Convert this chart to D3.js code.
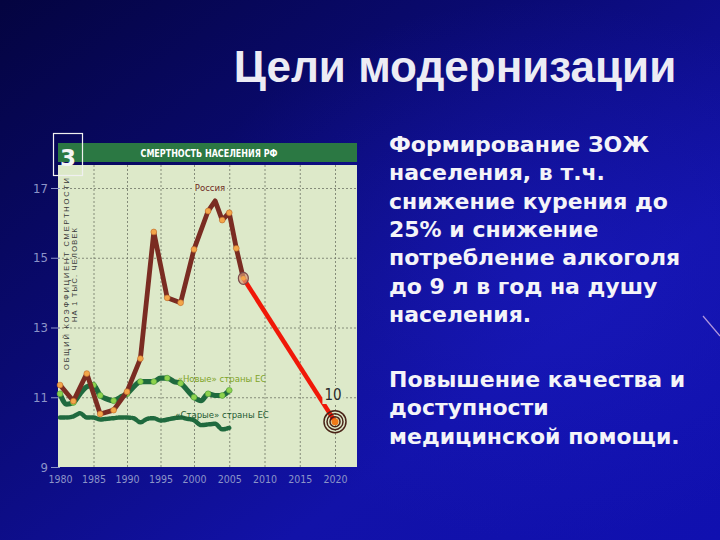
<!DOCTYPE html>
<html><head><meta charset="utf-8">
<script src="https://cdn.jsdelivr.net/npm/d3@7"></script>
<style>html,body{margin:0;padding:0;background:#0a0a70;} svg{display:block}</style>
</head><body><svg id="c" width="720" height="540"></svg>
<script>
// ---------- data ----------
const russiaYears  = [1980,1982,1984,1986,1988,1990,1992,1994,1996,1998,2000,2002,2003,2004,2005,2006,2007];
const russiaValues = [11.35,10.89,11.68,10.52,10.63,11.16,12.11,15.74,13.85,13.71,15.24,16.34,16.63,16.08,16.29,15.27,14.41];
const russiaMarkerYears = [1980,1982,1984,1986,1988,1990,1992,1994,1996,1998,2000,2002,2004,2005,2006];
const forecastYears  = [2007,2020];
const forecastValues = [14.41,10.3];
const newEuYears  = [1980,1981,1982,1983,1984,1985,1986,1987,1988,1989,1990,1991,1992,1993,1994,1995,1996,1997,1998,1999,2000,2001,2002,2003,2004,2005];
const newEuValues = [11.1,10.8,10.85,11.1,11.3,11.35,11.05,10.95,10.9,11.0,11.1,11.3,11.45,11.45,11.45,11.55,11.55,11.45,11.4,11.2,11.0,10.9,11.1,11.05,11.05,11.2];
const newEuMarkerYears = [1980,1982,1985,1986,1988,1990,1992,1994,1996,1998,2000,2002,2004,2005];
const oldEuYears  = [1980,1981,1982,1983,1984,1985,1986,1987,1988,1989,1990,1991,1992,1993,1994,1995,1996,1997,1998,1999,2000,2001,2002,2003,2004,2005];
const oldEuValues = [10.42,10.42,10.45,10.54,10.42,10.42,10.36,10.38,10.40,10.42,10.42,10.40,10.28,10.38,10.40,10.33,10.36,10.40,10.42,10.38,10.34,10.20,10.22,10.24,10.08,10.12];
const yTicks = [9,11,13,15,17];
const xTicks = [1980,1985,1990,1995,2000,2005,2010,2015,2020];
const targetLabel = "10";

const titleText = "Цели модернизации";
const chartTitle = "СМЕРТНОСТЬ НАСЕЛЕНИЯ РФ";
const yTitle1 = "ОБЩИЙ КОЭФФИЦИЕНТ СМЕРТНОСТИ";
const yTitle2 = "НА 1 ТЫС. ЧЕЛОВЕК";
const para1 = ["Формирование ЗОЖ","населения, в т.ч.","снижение курения до","25% и снижение","потребление алкоголя","до 9 л в год на душу","населения."];
const para2 = ["Повышение качества и","доступности","медицинской помощи."];

// ---------- drawing ----------
const svg = d3.select("#c");
const defs = svg.append("defs");
const g1 = defs.append("linearGradient").attr("id","bg").attr("x1","0").attr("y1","0").attr("x2","1").attr("y2","1");
g1.append("stop").attr("offset","0").attr("stop-color","#040440");
g1.append("stop").attr("offset","0.35").attr("stop-color","#0a0a72");
g1.append("stop").attr("offset","0.7").attr("stop-color","#1212a8");
g1.append("stop").attr("offset","1").attr("stop-color","#1010b0");
svg.append("rect").attr("width",720).attr("height",540).attr("fill","url(#bg)");
const rg = defs.append("radialGradient").attr("id","glow").attr("cx","0.75").attr("cy","0.5").attr("r","0.5");
rg.append("stop").attr("offset","0").attr("stop-color","#2020d0").attr("stop-opacity",0.4);
rg.append("stop").attr("offset","1").attr("stop-color","#2020d0").attr("stop-opacity",0);
svg.append("rect").attr("width",720).attr("height",540).attr("fill","url(#glow)");
svg.append("line").attr("x1",703).attr("y1",316).attr("x2",720).attr("y2",336)
  .attr("stroke","#d8b8e8").attr("stroke-width",1.2).attr("opacity",0.8);

// title
svg.append("text").attr("x",455).attr("y",82).attr("text-anchor","middle")
  .attr("font-family","'Liberation Sans', Arial, sans-serif").attr("font-weight","bold")
  .attr("font-size",44).attr("fill","#ececf4").text(titleText);

// right text
const tf = "'DejaVu Sans', Verdana, sans-serif";
para1.forEach((t,i)=>svg.append("text").attr("x",389).attr("y",152+i*28.3)
  .attr("font-family",tf).attr("font-weight","bold").attr("font-size",22).attr("fill","#f4f4f8").text(t));
para2.forEach((t,i)=>svg.append("text").attr("x",389).attr("y",387+i*28.3)
  .attr("font-family",tf).attr("font-weight","bold").attr("font-size",22).attr("fill","#f4f4f8").text(t));

// chart panel
const L=58, R=357, T=165, B=467;
const cf = "'Liberation Sans Narrow','DejaVu Sans Condensed','Roboto Condensed',Arial,sans-serif";
svg.append("rect").attr("x",L).attr("y",T).attr("width",R-L).attr("height",B-T).attr("fill","#dde9c9");
svg.append("rect").attr("x",L).attr("y",143).attr("width",R-L).attr("height",19).attr("fill","#2b7843");
svg.append("text").attr("x",209).attr("y",157).attr("text-anchor","middle").attr("font-family",cf)
  .attr("font-weight","bold").attr("font-size",10.5).attr("fill","#ffffff")
  .attr("textLength",137).attr("lengthAdjust","spacingAndGlyphs").text(chartTitle);

const x = d3.scaleLinear().domain([1980,2000,2020]).range([60,194,335]);
const y = d3.scaleLinear().domain([9,17]).range([467,188]);

// gridlines
const gh = svg.append("g").attr("transform",`translate(${L},0)`)
  .call(d3.axisLeft(y).tickValues(yTicks.filter(v=>v>9)).tickSize(-(R-L)).tickFormat(""));
gh.select(".domain").remove();
gh.selectAll("line").attr("stroke","#6f7466").attr("stroke-width",0.8).attr("stroke-dasharray","2,2");
const gv = svg.append("g").attr("transform",`translate(0,${B})`)
  .call(d3.axisBottom(x).tickValues(xTicks.filter(v=>v>1980)).tickSize(-(B-T)).tickFormat(""));
gv.select(".domain").remove();
gv.selectAll("line").attr("stroke","#6f7466").attr("stroke-width",0.8).attr("stroke-dasharray","2,2");

// y axis ticks & labels
const ya = svg.append("g").attr("transform",`translate(${L+2},0)`)
  .call(d3.axisLeft(y).tickValues(yTicks).tickSize(9).tickPadding(3).tickFormat(d3.format("d")));
ya.select(".domain").remove();
ya.selectAll("line").attr("stroke","#8c94c8").attr("stroke-width",1);
ya.selectAll("text").attr("font-family",cf).attr("font-size",13).attr("fill","#8c94c8");

const xa = svg.append("g").attr("transform",`translate(0,${B})`)
  .call(d3.axisBottom(x).tickValues(xTicks).tickSize(0).tickPadding(9).tickFormat(d3.format("d")));
xa.select(".domain").remove();
xa.selectAll("text").attr("font-family",cf).attr("font-size",10.5).attr("fill","#8c94c8");

// y title
svg.append("text").attr("transform","translate(69,274) rotate(-90)").attr("text-anchor","middle")
  .attr("font-family","'Liberation Sans',Arial,sans-serif").attr("font-size",7.5).attr("fill","#3a3a3a")
  .attr("textLength",192).attr("lengthAdjust","spacing").text(yTitle1);
svg.append("text").attr("transform","translate(77,275) rotate(-90)").attr("text-anchor","middle")
  .attr("font-family","'Liberation Sans',Arial,sans-serif").attr("font-size",7.5).attr("fill","#3a3a3a")
  .attr("textLength",94).attr("lengthAdjust","spacing").text(yTitle2);

// series
const line = d3.line().x(d=>x(d[0])).y(d=>y(d[1]));
const smooth = d3.line().x(d=>x(d[0])).y(d=>y(d[1])).curve(d3.curveMonotoneX);
const zip = (a,b)=>a.map((v,i)=>[v,b[i]]);

// old EU
svg.append("path").datum(zip(oldEuYears,oldEuValues)).attr("d",smooth).attr("fill","none")
  .attr("stroke","#1f6a3e").attr("stroke-width",4.5).attr("stroke-dasharray","5,1.8").attr("stroke-linecap","round");
// new EU
svg.append("path").datum(zip(newEuYears,newEuValues)).attr("d",smooth).attr("fill","none")
  .attr("stroke","#1f6a3e").attr("stroke-width",5.2).attr("stroke-linejoin","round");
const newMap = new Map(zip(newEuYears,newEuValues));
svg.selectAll(".nm").data(newEuMarkerYears).enter().append("circle")
  .attr("cx",d=>x(d)).attr("cy",d=>y(newMap.get(d))).attr("r",2.9)
  .attr("fill","#8ed24e").attr("stroke","#4c9a3a").attr("stroke-width",0.6);

// Russia
svg.append("path").datum(zip(russiaYears,russiaValues)).attr("d",line).attr("fill","none")
  .attr("stroke","#7a2c22").attr("stroke-width",4.8).attr("stroke-linejoin","round");
const rMap = new Map(zip(russiaYears,russiaValues));
svg.selectAll(".rm").data(russiaMarkerYears).enter().append("circle")
  .attr("cx",d=>x(d)).attr("cy",d=>y(rMap.get(d))).attr("r",2.9)
  .attr("fill","#f3a64a").attr("stroke","#c06a28").attr("stroke-width",0.6);

// forecast
const fc = zip(forecastYears,forecastValues);
svg.append("path").datum(fc).attr("d",line).attr("fill","none")
  .attr("stroke","#f01808").attr("stroke-width",4.5);
svg.append("ellipse").attr("cx",x(fc[0][0])).attr("cy",y(fc[0][1])).attr("rx",5).attr("ry",6)
  .attr("fill","#d89870").attr("fill-opacity",0.7).attr("stroke","#7a4a4a").attr("stroke-width",1.2);
svg.append("circle").attr("cx",x(fc[0][0])).attr("cy",y(fc[0][1])).attr("r",2.4).attr("fill","#f3a64a");
// target
const tx = x(fc[1][0]), ty = y(fc[1][1]);
[11,8,5].forEach(r=>svg.append("circle").attr("cx",tx).attr("cy",ty).attr("r",r)
  .attr("fill","none").attr("stroke","#4a2418").attr("stroke-width",1.5));
svg.append("circle").attr("cx",tx).attr("cy",ty).attr("r",3.5).attr("fill","#f07a18");

// labels
function lab(t,xx,yy,size,col,bg){
  const el = svg.append("text").attr("x",xx).attr("y",yy).attr("text-anchor","middle")
    .attr("font-family",cf).attr("font-size",size).attr("fill",col).text(t);
  if(bg){ const bb = el.node().getBBox();
    svg.insert("rect", function(){return el.node();}).attr("x",bb.x-2).attr("y",bb.y).attr("width",bb.width+4)
      .attr("height",bb.height).attr("fill","#dde9c9"); }
  return el;
}
lab("Россия",210,191,9.5,"#6e2a1c",true);
lab("«Новые» страны ЕС",222,382,9.5,"#7ea428",false);
lab("«Старые» страны ЕС",222,418,9.5,"#1d5a32",false);
lab(targetLabel,x(2020)-2,400,15,"#2a2a2a",true);

// "3" badge
svg.append("rect").attr("x",53.5).attr("y",133.5).attr("width",29).attr("height",42)
  .attr("fill","none").attr("stroke","#f0f0f0").attr("stroke-width",1.2);
svg.append("text").attr("x",68).attr("y",166).attr("text-anchor","middle")
  .attr("font-family","'DejaVu Sans', sans-serif")
  .attr("font-weight","bold").attr("font-size",23).attr("fill","#f4f4f4").text("3");
</script></body></html>
